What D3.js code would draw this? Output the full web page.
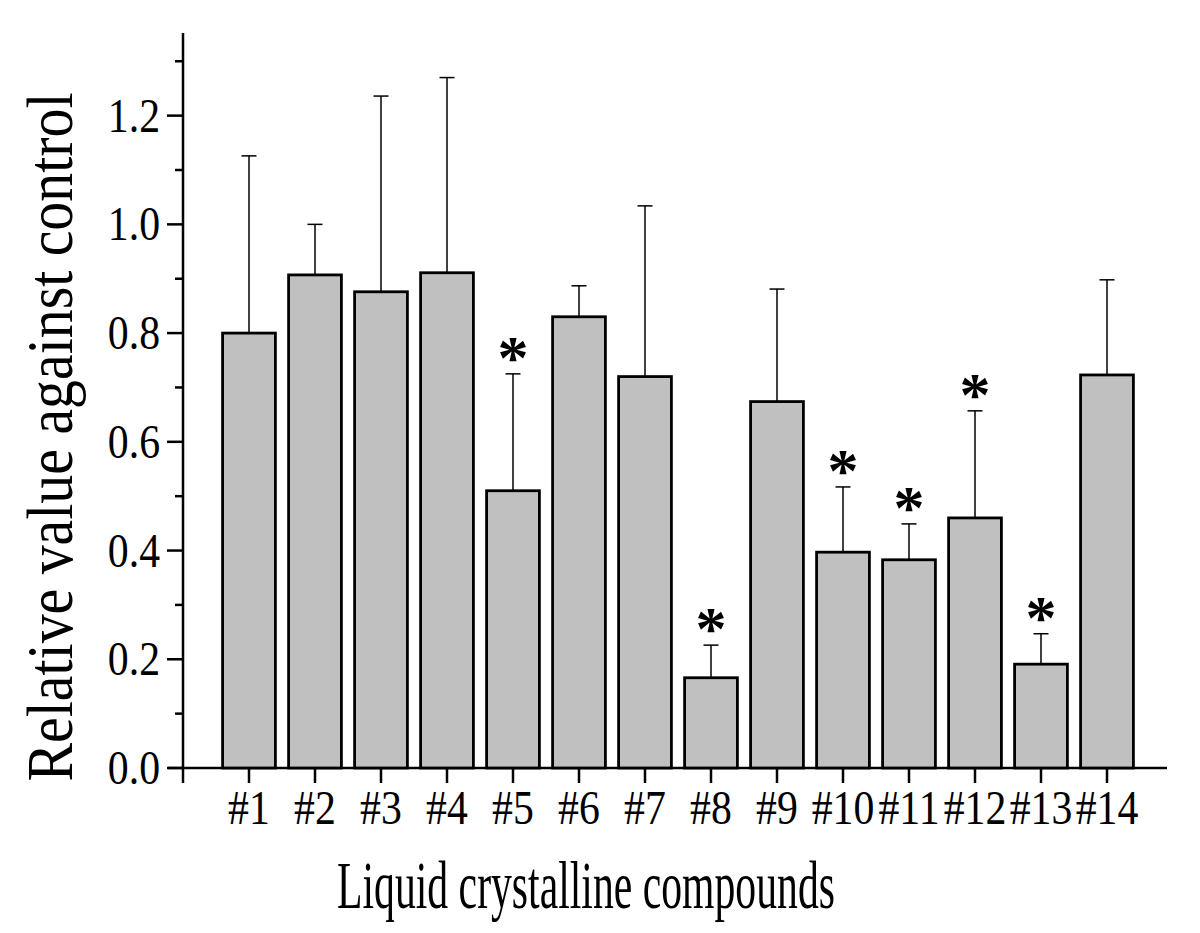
<!DOCTYPE html>
<html>
<head>
<meta charset="utf-8">
<script src="https://cdn.jsdelivr.net/npm/d3@7"></script>
<style>
  body { margin: 0; background: #fff; }
  text { font-family: "Liberation Serif", "Times New Roman", serif; fill: #000; }
</style>
</head>
<body>
<div id="chart"></div>
<script>
// data
const compounds = ["#1", "#2", "#3", "#4", "#5", "#6", "#7", "#8", "#9", "#10", "#11", "#12", "#13", "#14"];
const means = [0.800, 0.907, 0.876, 0.911, 0.510, 0.830, 0.720, 0.166, 0.674, 0.397, 0.383, 0.460, 0.191, 0.723];
const errUpper = [1.126, 1.000, 1.236, 1.270, 0.725, 0.887, 1.034, 0.226, 0.881, 0.517, 0.449, 0.657, 0.247, 0.898];
const significant = [false, false, false, false, true, false, false, true, false, true, true, true, true, false];
const yTicks = [0, 0.2, 0.4, 0.6, 0.8, 1.0, 1.2];

const W = 1200, H = 933;
const squeeze = 0.87; // text in the figure is horizontally condensed

const svg = d3.select("#chart").append("svg")
  .attr("width", W)
  .attr("height", H);

const x = d3.scaleLinear().domain([0, 15]).range([183, 183 + 15 * 66]);
const y = d3.scaleLinear().domain([0, 1.352]).range([768, 33]);
const barW = x(0.8) - x(0);

// y axis
const yAxis = svg.append("g").attr("transform", "translate(183,0)");
yAxis.append("line")
  .attr("x1", 0).attr("x2", 0)
  .attr("y1", y(1.352)).attr("y2", y(0))
  .attr("stroke", "#000").attr("stroke-width", 2.5);
yAxis.selectAll(".minor")
  .data(d3.range(1, 14, 2).map(d => d / 10))
  .enter().append("line")
  .attr("x1", -8).attr("x2", 0)
  .attr("y1", d => y(d)).attr("y2", d => y(d))
  .attr("stroke", "#000").attr("stroke-width", 2.5);
yAxis.selectAll(".major")
  .data(yTicks)
  .enter().append("line")
  .attr("x1", -16).attr("x2", 0)
  .attr("y1", d => y(d)).attr("y2", d => y(d))
  .attr("stroke", "#000").attr("stroke-width", 2.5);
yAxis.selectAll(".lbl")
  .data(yTicks)
  .enter().append("text")
  .attr("x", -23)
  .attr("y", d => y(d) + 16)
  .attr("text-anchor", "end")
  .attr("font-size", 48)
  .text(d => d.toFixed(1));

// x axis
const xAxis = svg.append("g").attr("transform", "translate(0,768)");
xAxis.append("line")
  .attr("x1", 168).attr("x2", 1167)
  .attr("y1", 0).attr("y2", 0)
  .attr("stroke", "#000").attr("stroke-width", 2.5);
xAxis.selectAll(".tick")
  .data(d3.range(0, 15))
  .enter().append("line")
  .attr("x1", d => x(d)).attr("x2", d => x(d))
  .attr("y1", 0).attr("y2", 15)
  .attr("stroke", "#000").attr("stroke-width", 2.5);
xAxis.selectAll(".lbl")
  .data(compounds)
  .enter().append("text")
  .attr("x", (d, i) => x(i + 1))
  .attr("y", 56)
  .attr("text-anchor", "middle")
  .attr("font-size", 48)
  .text(d => d);

// error bars (upper only)
const eb = svg.append("g");
eb.selectAll(".stem")
  .data(means)
  .enter().append("line")
  .attr("x1", (d, i) => x(i + 1)).attr("x2", (d, i) => x(i + 1))
  .attr("y1", d => y(d)).attr("y2", (d, i) => y(errUpper[i]))
  .attr("stroke", "#000").attr("stroke-width", 1.5);
eb.selectAll(".cap")
  .data(errUpper)
  .enter().append("line")
  .attr("x1", (d, i) => x(i + 1) - 7.5).attr("x2", (d, i) => x(i + 1) + 7.5)
  .attr("y1", d => y(d)).attr("y2", d => y(d))
  .attr("stroke", "#000").attr("stroke-width", 1.5);

// bars
svg.append("g").selectAll("rect")
  .data(means)
  .enter().append("rect")
  .attr("x", (d, i) => x(i + 1) - barW / 2)
  .attr("y", d => y(d))
  .attr("width", barW)
  .attr("height", d => y(0) - y(d))
  .attr("fill", "#c0c0c0")
  .attr("stroke", "#000")
  .attr("stroke-width", 2.8);

// significance marks
svg.append("g").selectAll("text")
  .data(errUpper.map((d, i) => ({ v: d, i: i })).filter(d => significant[d.i]))
  .enter().append("text")
  .attr("x", d => x(d.i + 1))
  .attr("y", d => y(d.v) + 4)
  .attr("text-anchor", "middle")
  .attr("font-size", 62)
  .attr("font-weight", "bold")
  .text("*");

// axis titles
svg.append("text")
  .attr("x", 586)
  .attr("y", 908)
  .attr("text-anchor", "middle")
  .attr("font-size", 68)
  .attr("textLength", 498)
  .attr("lengthAdjust", "spacingAndGlyphs")
  .text("Liquid crystalline compounds");

svg.append("text")
  .attr("transform", "translate(72,437) rotate(-90)")
  .attr("text-anchor", "middle")
  .attr("font-size", 66)
  .attr("textLength", 689)
  .attr("lengthAdjust", "spacingAndGlyphs")
  .text("Relative value against control");

// condense tick labels like the original
svg.selectAll("g text").each(function() {
  const t = d3.select(this);
  if (t.text() === "*") return;
  t.attr("textLength", this.getComputedTextLength() * squeeze)
   .attr("lengthAdjust", "spacingAndGlyphs");
});
</script>
</body>
</html>
